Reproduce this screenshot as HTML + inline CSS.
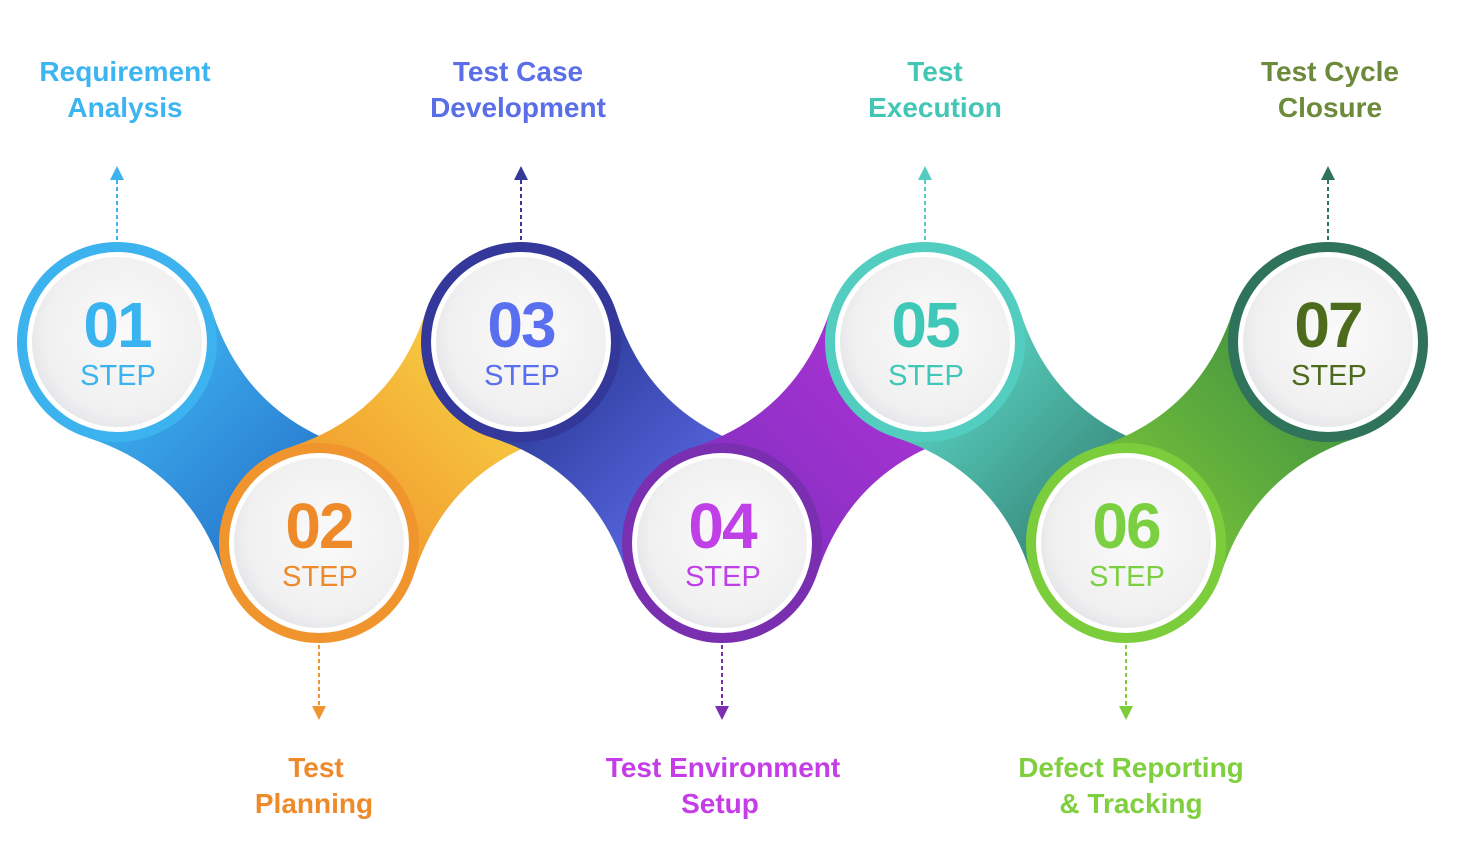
<!DOCTYPE html>
<html><head><meta charset="utf-8"><style>
html,body{margin:0;padding:0;background:#fff;width:1462px;height:866px;overflow:hidden}
svg{display:block}
text{font-family:"Liberation Sans",sans-serif}
</style></head><body>
<svg id="s" width="1462" height="866" viewBox="0 0 1462 866" xmlns="http://www.w3.org/2000/svg">
<defs>
<radialGradient id="wd" cx="0.55" cy="0.45" r="0.6"><stop offset="0" stop-color="#fafafa"/><stop offset="0.8" stop-color="#f0f0f1"/><stop offset="1" stop-color="#e2e3e6"/></radialGradient>
</defs>
<g id="segs"></g><g id="circs"></g><g id="arrs"></g>
<g font-weight="bold" font-size="28" text-anchor="middle">
<text x="125" y="81" fill="#3db5f0">Requirement</text><text x="125" y="117" fill="#3db5f0">Analysis</text>
<text x="518" y="81" fill="#5a6ee8">Test Case</text><text x="518" y="117" fill="#5a6ee8">Development</text>
<text x="935" y="81" fill="#44c6b6">Test</text><text x="935" y="117" fill="#44c6b6">Execution</text>
<text x="1330" y="81" fill="#6b8a3a">Test Cycle</text><text x="1330" y="117" fill="#6b8a3a">Closure</text>
<text x="316" y="777" fill="#ef8a2b">Test</text><text x="314" y="813" fill="#ef8a2b">Planning</text>
<text x="723" y="777" fill="#c43de6">Test Environment</text><text x="720" y="813" fill="#c43de6">Setup</text>
<text x="1131" y="777" fill="#7fcf3e">Defect Reporting</text><text x="1131" y="813" fill="#7fcf3e">&amp; Tracking</text>
</g>
</svg>
<script>
(function(){
var NS="http://www.w3.org/2000/svg";
var C=[[117,342],[319,543],[521,342],[722,543],[925,342],[1126,543],[1328,342]];
var ring=["#3cb2ef","#f0942e","#33389a","#7a2fb0","#52cdc0","#7ccd3c","#2f735a"];
var num=["#3ab4f0","#ee8a2a","#5a6ef0","#c040e8","#3fc7b8","#7ad040","#4d6b1c"];
var sg=[["#3aa8ea","#2a7dd0"],["#f2a030","#f6c840"],["#3040a0","#5563dc"],["#8a30c4","#a532d2"],["#55c8b8","#3a8f80"],["#70bc3a","#4a9a40"]];
function el(t,a,p){var e=document.createElementNS(NS,t);for(var k in a)e.setAttribute(k,a[k]);p.appendChild(e);return e;}
var defs=document.querySelector("defs"),segs=document.getElementById("segs"),circs=document.getElementById("circs"),arrs=document.getElementById("arrs");
var r=100,phi=62*Math.PI/180,w=40;
for(var i=0;i<6;i++){
 var A=C[i],B=C[i+1],dx=B[0]-A[0],dy=B[1]-A[1],L=Math.hypot(dx,dy),ux=dx/L,uy=dy/L,nx=-uy,ny=ux;
 var M=[(A[0]+B[0])/2,(A[1]+B[1])/2],cs=Math.cos(phi),sn=Math.sin(phi);
 var pA=function(s){return [A[0]+r*(ux*cs+s*nx*sn),A[1]+r*(uy*cs+s*ny*sn)];};
 var pB=function(s){return [B[0]+r*(-ux*cs+s*nx*sn),B[1]+r*(-uy*cs+s*ny*sn)];};
 var cc=function(s){return [M[0]+s*nx*w,M[1]+s*ny*w];};
 var a1=pA(1),b1=pB(1),c1=cc(1),a2=pA(-1),b2=pB(-1),c2=cc(-1);
 var d="M"+a1+" Q"+c1+" "+b1+" L"+b2+" Q"+c2+" "+a2+" Z";
 var g=el("linearGradient",{id:"g"+i,gradientUnits:"userSpaceOnUse",x1:A[0],y1:A[1],x2:B[0],y2:B[1]},defs);
 el("stop",{offset:"0.2","stop-color":sg[i][0]},g);el("stop",{offset:"0.8","stop-color":sg[i][1]},g);
 el("path",{d:d,fill:"url(#g"+i+")"},segs);
}
for(var i=0;i<7;i++){
 var x=C[i][0],y=C[i][1];
 el("circle",{cx:x,cy:y,r:100,fill:ring[i]},circs);
 el("circle",{cx:x,cy:y,r:90,fill:"#ffffff"},circs);
 el("circle",{cx:x,cy:y,r:85,fill:"url(#wd)"},circs);
 var t=el("text",{x:x,y:y+5,"text-anchor":"middle","font-size":"64","font-weight":"bold",fill:num[i],"letter-spacing":"-2"},circs);t.textContent="0"+(i+1);
 var t2=el("text",{x:x+1,y:y+43,"text-anchor":"middle","font-size":"29",fill:num[i]},circs);t2.textContent="STEP";
 var up=(i%2==0),ac=ring[i];
 if(up){
  el("line",{x1:x,y1:240,x2:x,y2:180,stroke:ac,"stroke-width":2,"stroke-dasharray":"4,3"},arrs);
  el("polygon",{points:(x-7)+",180 "+(x+7)+",180 "+x+",166",fill:ac},arrs);
 }else{
  el("line",{x1:x,y1:645,x2:x,y2:706,stroke:ac,"stroke-width":2,"stroke-dasharray":"4,3"},arrs);
  el("polygon",{points:(x-7)+",706 "+(x+7)+",706 "+x+",720",fill:ac},arrs);
 }
}
})();
</script>
</body></html>
